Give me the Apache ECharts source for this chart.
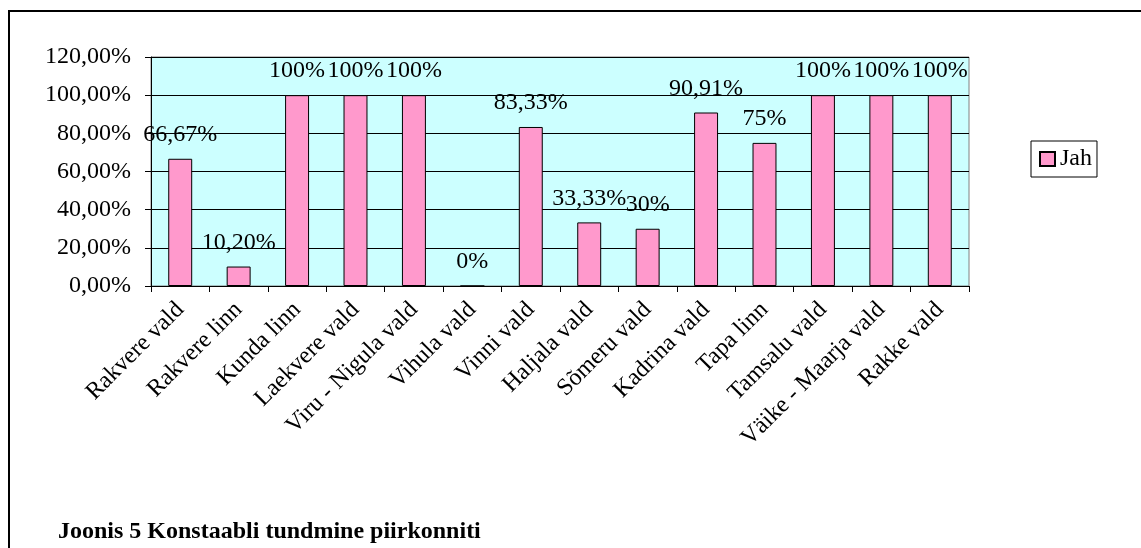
<!DOCTYPE html>
<html>
<head>
<meta charset="utf-8">
<script src="https://cdn.jsdelivr.net/npm/echarts@6/dist/echarts.min.js"></script>
<style>
  html, body { margin: 0; padding: 0; background: #fff; overflow: hidden; }
  #chart { width: 1141px; height: 548px; }
</style>
</head>
<body>
<div id="chart"></div>
<script>
const categories = [
  "Rakvere vald", "Rakvere linn", "Kunda linn", "Laekvere vald",
  "Viru - Nigula vald", "Vihula vald", "Vinni vald", "Haljala vald",
  "Sõmeru vald", "Kadrina vald", "Tapa linn", "Tamsalu vald",
  "Väike - Maarja vald", "Rakke vald"
];
const jahValues = [66.67, 10.2, 100, 100, 100, 0, 83.33, 33.33, 30, 90.91, 75, 100, 100, 100];
const jahLabels = ["66,67%", "10,20%", "100%", "100%", "100%", "0%", "83,33%", "33,33%", "30%", "90,91%", "75%", "100%", "100%", "100%"];
const yTicks = { min: 0, max: 120, interval: 20 };

const serif = "'Liberation Serif', 'Times New Roman', serif";

const chart = echarts.init(document.getElementById("chart"));
chart.setOption({
  animation: false,
  backgroundColor: "#fff",
  textStyle: { fontFamily: serif },
  graphic: [
    {
      type: "rect",
      shape: { x: 9, y: 11, width: 1200, height: 600 },
      style: { fill: null, stroke: "#000", lineWidth: 2 },
      silent: true,
      z: 0
    },
    {
      type: "text",
      x: 58,
      y: 532,
      style: {
        text: "Joonis 5 Konstaabli tundmine piirkonniti",
        font: "bold 24px " + serif,
        fill: "#000",
        verticalAlign: "middle"
      }
    }
  ],
  grid: {
    left: 151,
    top: 57,
    right: 172,
    bottom: 262,
    show: true,
    backgroundColor: "#CCFFFF",
    borderColor: "#808080",
    borderWidth: 1
  },
  legend: {
    left: 1031,
    top: 141,
    orient: "vertical",
    padding: [6, 5, 6, 8],
    borderColor: "#000",
    borderWidth: 1,
    itemWidth: 15,
    itemHeight: 14,
    textStyle: { fontFamily: serif, fontSize: 24, color: "#000" },
    data: [{ name: "Jah", icon: "rect" }]
  },
  xAxis: {
    type: "category",
    data: categories,
    axisLine: { lineStyle: { color: "#000", width: 1 } },
    axisTick: { show: true, length: 6, lineStyle: { color: "#000" } },
    axisLabel: {
      rotate: 45,
      interval: 0,
      margin: 20,
      fontFamily: serif,
      fontSize: 24,
      color: "#000"
    }
  },
  yAxis: {
    type: "value",
    min: yTicks.min,
    max: yTicks.max,
    interval: yTicks.interval,
    axisLine: { show: true, lineStyle: { color: "#000", width: 1 } },
    axisTick: { show: true, length: 6, lineStyle: { color: "#000" } },
    splitLine: { lineStyle: { color: "#000", width: 1 } },
    axisLabel: {
      margin: 20,
      fontFamily: serif,
      fontSize: 24,
      color: "#000",
      formatter: (v) => v.toFixed(2).replace(".", ",") + "%"
    }
  },
  series: [
    {
      name: "Jah",
      type: "bar",
      data: jahValues,
      barWidth: "41%",
      itemStyle: { color: "#FF99CC", borderColor: "#000", borderWidth: 1 },
      label: {
        show: true,
        position: "top",
        distance: 12,
        fontFamily: serif,
        fontSize: 24,
        color: "#000",
        formatter: (p) => jahLabels[p.dataIndex]
      }
    }
  ]
});
</script>
</body>
</html>
